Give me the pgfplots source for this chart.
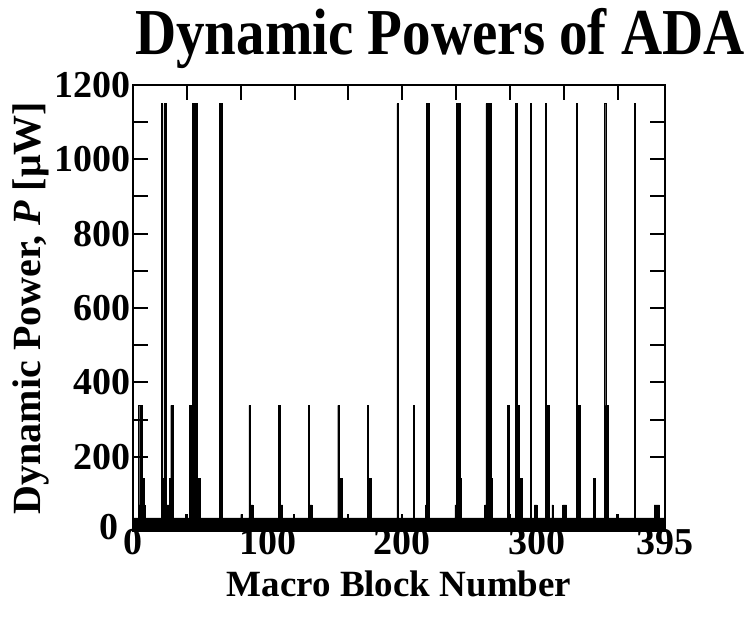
\documentclass[border=0pt]{standalone}
\usepackage{fontspec}
\setmainfont{Liberation Serif}
\usepackage{pgfplots}
\pgfplotsset{compat=1.18}
\usepackage{pgfplotstable}

% Dynamic power per macro block (step table: value holds from x to next x)
\pgfplotstableread{
x y
0 35
4 338
5 70
6 338
7 142
8 70
9 35
21 1150
22 142
23 1150
25 70
27 142
28 338
30 35
39 45
40 35
42 338
44 1150
48 142
50 35
64 1150
66 35
80 45
81 35
86 338
87 70
89 35
108 338
109 70
111 35
119 45
120 35
130 338
131 70
133 35
152 338
153 70
154 142
155 35
159 45
160 35
174 338
175 142
177 35
196 1150
197 35
199 45
200 35
208 338
209 35
217 70
218 1150
220 35
239 70
240 1150
243 142
244 35
261 70
262 1150
266 142
267 35
278 338
279 45
280 35
284 1150
285 338
287 142
289 35
295 1150
296 35
298 70
300 35
306 1150
307 338
309 35
311 70
312 35
319 70
322 35
329 1150
330 338
332 35
342 142
343 35
350 1150
351 338
353 35
359 45
360 35
372 1150
373 35
387 70
391 35
395 35
}\powertable

\begin{document}
\begin{tikzpicture}
\pgfplotsset{
  common/.style={
    name=#1,
    width=532pt, height=446pt, scale only axis,
    xmin=0, xmax=395, ymin=0, ymax=1200,
    axis line style={line width=2.5pt},
    tick align=inside,
    major tick length=15pt, minor tick length=15pt,
    every tick/.style={black, line width=2pt},
  }
}
\begin{axis}[
  common=ax,
  xtick={0,100,200,300,395},
  x tick style={draw=none},
  ytick={200,400,...,1200},
  extra y ticks={0},
  extra y tick style={yticklabel style={xshift=-12pt, yshift=4pt}},
  minor y tick num=1,
  ytick pos=both,
  yticklabel pos=left,
  /pgf/number format/assume math mode=true,
  /pgf/number format/1000 sep={},
  tick label style={font=\fontsize{38}{38}\selectfont\bfseries},
  yticklabel style={inner sep=2pt},
  xticklabel style={inner sep=0pt, yshift=2pt},
  xlabel={Macro Block Number},
  ylabel={Dynamic Power, \textbf{\textit{P}} [μW]},
  xlabel style={font=\fontsize{37}{37}\selectfont\bfseries, yshift=-12pt},
  ylabel style={font=\fontsize{40}{40}\selectfont\bfseries, yshift=0pt},
  title={\scalebox{1}[1.15]{Dynamic Powers of ADA}},
  title style={font=\fontsize{57}{57}\selectfont\bfseries, at={(rel axis cs:0.577,1)}, anchor=south, yshift=10pt, inner sep=0pt},
]
\addplot[const plot, fill=black, draw=black, line width=0.4pt] table[x=x, y=y] {\powertable} \closedcycle;
\end{axis}
\begin{axis}[
  common=axtop,
  axis x line*=top, axis y line=none,
  xtick={40,80,...,360},
  xticklabels={},
  ytick=\empty,
]
\end{axis}
\pgfresetboundingbox
\useasboundingbox ([shift={(-133pt,-87pt)}]ax.south west) rectangle ++(754pt,618pt);
\end{tikzpicture}
\end{document}
